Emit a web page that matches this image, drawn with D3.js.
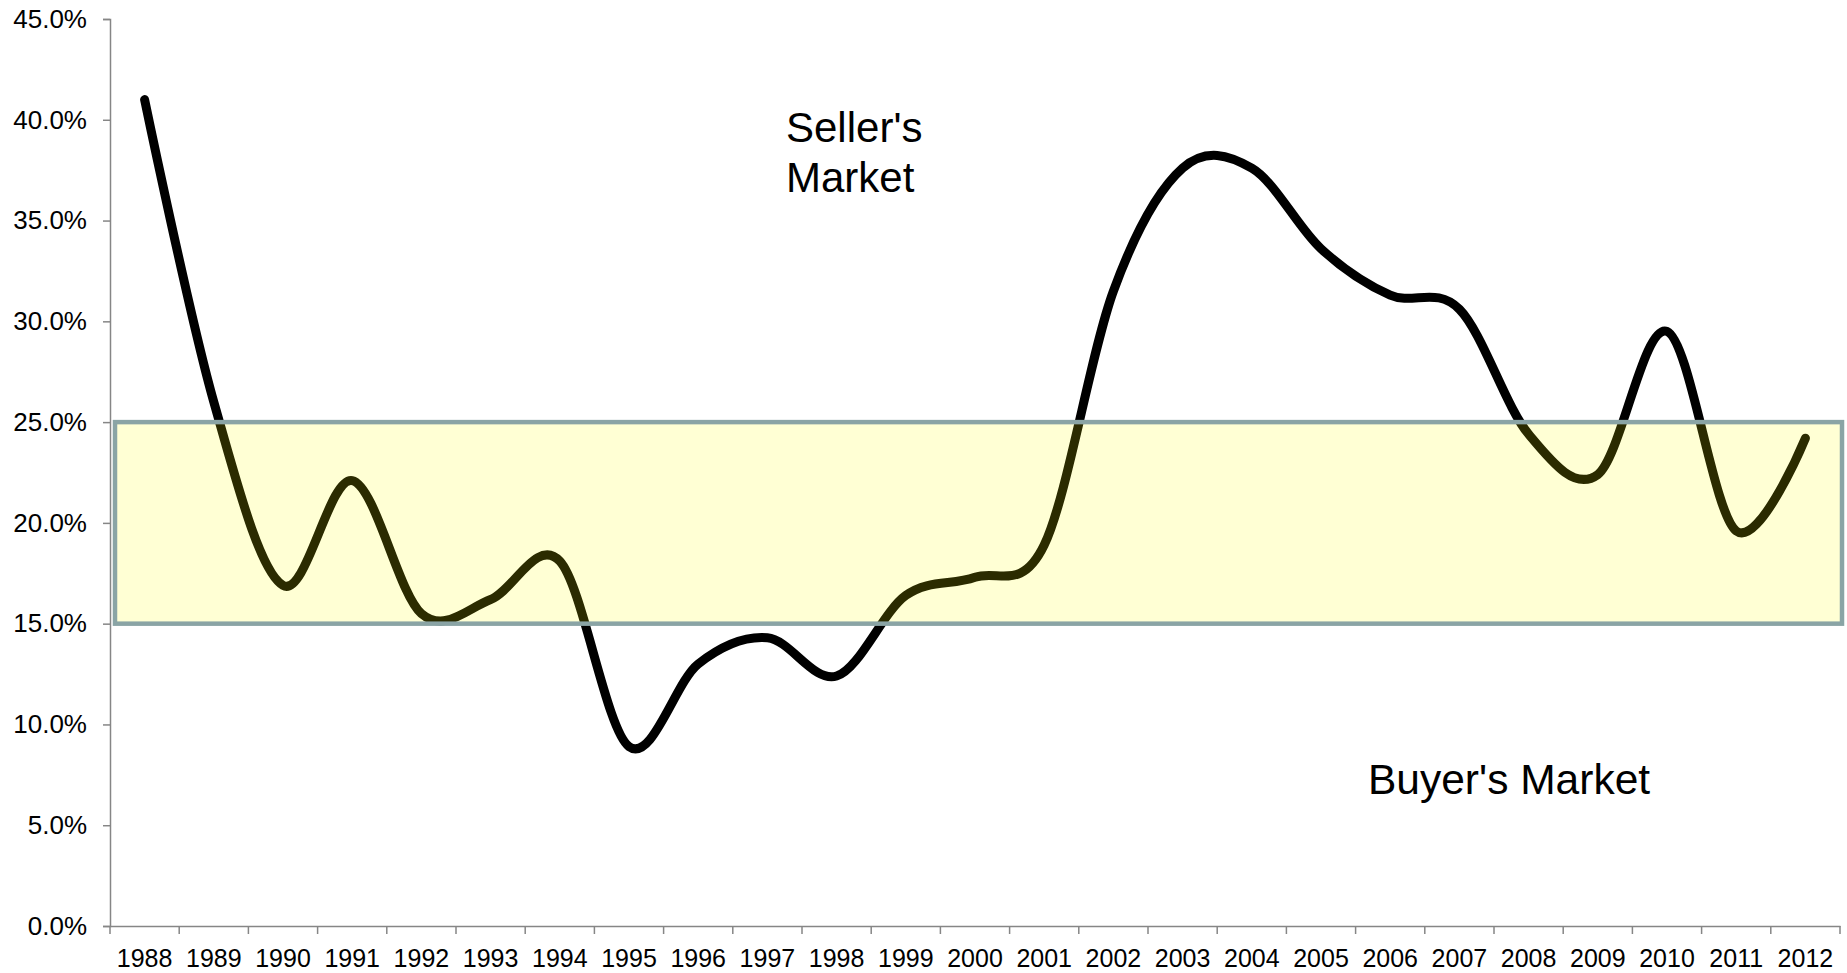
<!DOCTYPE html>
<html>
<head>
<meta charset="utf-8">
<script src="https://cdn.jsdelivr.net/npm/d3@7/dist/d3.min.js"></script>
<style>
    body { margin: 0; background: #fff; }
    svg { display: block; font-family: "Liberation Sans", Arial, sans-serif; }
</style>
</head>
<body>
<svg id="chart"></svg>
<script>
// Data
const years = ["1988", "1989", "1990", "1991", "1992", "1993", "1994", "1995", "1996",
    "1997", "1998", "1999", "2000", "2001", "2002", "2003", "2004", "2005", "2006",
    "2007", "2008", "2009", "2010", "2011", "2012"];
const shares = [41.0, 26.0, 16.9, 22.1, 15.5, 16.2, 18.1, 8.9, 13.0,
    14.3, 12.4, 16.4, 17.3, 18.9, 31.5, 37.6, 37.6, 33.6, 31.3,
    30.6, 24.4, 22.4, 29.5, 19.6, 24.2];
const yTicks = [0, 5, 10, 15, 20, 25, 30, 35, 40, 45];
const neutralBand = [15, 25];
const sellerLabel = ["Seller's", "Market"];
const buyerLabel = "Buyer's Market";

// Configuration
const width = 1847;
const height = 973;
const margin = {top: 19, right: 7, bottom: 47, left: 110};

const svg = d3.select("#chart")
    .attr("width", width)
    .attr("height", height);

const x = d3.scaleBand()
    .domain(years)
    .range([margin.left, width - margin.right])
    .padding(0);

const y = d3.scaleLinear()
    .domain([0, 45])
    .range([height - margin.bottom, margin.top]);

// Y axis
const yAxis = svg.append("g")
    .attr("transform", `translate(${margin.left},0)`)
    .call(d3.axisLeft(y)
        .tickValues(yTicks)
        .tickFormat(d => d3.format(".1f")(d) + "%")
        .tickSize(7)
        .tickPadding(16));
yAxis.selectAll("path, line").attr("stroke", "#868686").attr("stroke-width", 1.5);
yAxis.selectAll("text").attr("font-size", 26).attr("fill", "#000")
    .attr("font-family", "'Liberation Sans', Arial, sans-serif");

// X axis: labels centred in each category, ticks on the boundaries
const xAxis = svg.append("g")
    .attr("transform", `translate(0,${height - margin.bottom})`)
    .call(d3.axisBottom(x).tickSize(0).tickPadding(23));
xAxis.select(".domain").attr("stroke", "#868686").attr("stroke-width", 1.5);
xAxis.selectAll("text").attr("font-size", 25).attr("fill", "#000")
    .attr("font-family", "'Liberation Sans', Arial, sans-serif");

xAxis.selectAll(".boundary")
    .data(years.map(d => x(d)).concat([x.range()[1]]))
    .enter()
    .append("line")
    .attr("class", "boundary")
    .attr("x1", d => d)
    .attr("x2", d => d)
    .attr("y1", 0)
    .attr("y2", 8)
    .attr("stroke", "#868686")
    .attr("stroke-width", 1.5);

// Smoothed line
const line = d3.line()
    .x((d, i) => x(years[i]) + x.bandwidth() / 2)
    .y(d => y(d))
    .curve(d3.curveCardinal.tension(0));

svg.append("path")
    .datum(shares)
    .attr("d", line)
    .attr("fill", "none")
    .attr("stroke", "#000")
    .attr("stroke-width", 9)
    .attr("stroke-linecap", "round")
    .attr("stroke-linejoin", "round");

// Neutral zone box, drawn over the line
svg.append("rect")
    .attr("x", x.range()[0] + 5)
    .attr("y", y(neutralBand[1]))
    .attr("width", x.range()[1] - x.range()[0] - 3)
    .attr("height", y(neutralBand[0]) - y(neutralBand[1]))
    .attr("fill", "#ffff00")
    .attr("fill-opacity", 0.17)
    .attr("stroke", "#8aa4a5")
    .attr("stroke-width", 4.5);

// Annotations
const seller = svg.append("text")
    .attr("x", 786)
    .attr("y", 142)
    .attr("font-size", 42)
    .attr("fill", "#000");
sellerLabel.forEach((t, i) => {
    seller.append("tspan")
        .attr("x", 786)
        .attr("dy", i === 0 ? 0 : 50)
        .text(t);
});

svg.append("text")
    .attr("x", 1368)
    .attr("y", 794)
    .attr("font-size", 42.5)
    .attr("fill", "#000")
    .text(buyerLabel);
</script>
</body>
</html>
